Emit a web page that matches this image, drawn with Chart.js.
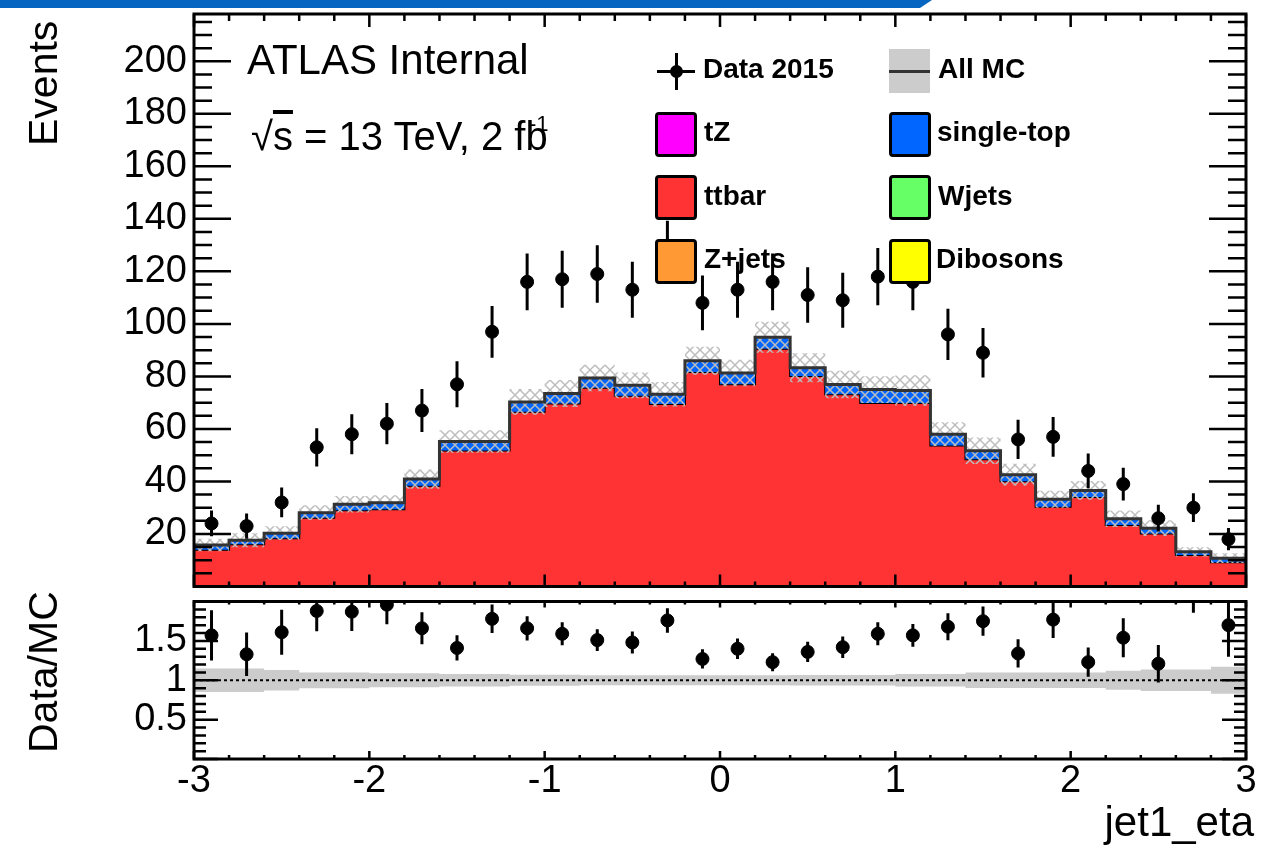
<!DOCTYPE html>
<html lang="en">
<head>
<meta charset="UTF-8">
<meta name="viewport" content="width=device-width, initial-scale=1.0">
<title>jet1_eta</title>
<script src="https://cdn.jsdelivr.net/npm/chart.js"></script>
<style>
  body { margin: 0; background: #fff; color: #000; font-family: "Liberation Sans", Arial, Helvetica, sans-serif; }
  #page { position: relative; width: 1284px; height: 853px; overflow: hidden; }
  #topbar { position: absolute; left: 0; top: 0; width: 932px; height: 8px; background: #0565c0;
            clip-path: polygon(0 0, 100% 0, calc(100% - 12px) 100%, 0 100%); }
  .pane { position: absolute; left: 0; width: 1284px; }
  .txt { position: absolute; white-space: nowrap; }
  .vtitle { position: absolute; white-space: nowrap; font-size: 41px; line-height: 41px;
            transform-origin: 0 0; transform: rotate(-90deg); }
  .leg { position: absolute; white-space: nowrap; font-size: 28px; line-height: 28px; font-weight: bold; }
  .swatch { position: absolute; width: 42px; height: 45px; box-sizing: border-box;
            border: 3px solid #000; border-radius: 4px; }
</style>
</head>
<body>
<div id="page">
  <div class="pane" style="top:0;height:594px"><canvas id="mainChart"></canvas></div>
  <div class="pane" style="top:594px;height:259px"><canvas id="ratioChart"></canvas></div>
  <div id="topbar"></div>

  <!-- axis titles -->
  <div class="vtitle" style="left:23px;top:146px">Events</div>
  <div class="vtitle" style="left:23px;top:753px">Data/MC</div>
  <div class="txt" style="right:30px;top:801px;font-size:42px;line-height:42px">jet1_eta</div>

  <!-- labels -->
  <div class="txt" style="left:247px;top:39px;font-size:42px;line-height:42px">ATLAS Internal</div>
  <div class="txt" style="left:251px;top:116px;font-size:40px;line-height:40px">√<span style="text-decoration:overline">s</span> = 13 TeV, 2 f<span style="letter-spacing:0">b</span></div>
  <div class="txt" style="left:529px;top:113px;font-size:22px;line-height:22px">-1</div>

  <!-- legend -->
  <div style="position:absolute;left:657px;top:69.5px;width:38px;height:3px;background:#000"></div>
  <div style="position:absolute;left:674.5px;top:53px;width:3px;height:37px;background:#000"></div>
  <div style="position:absolute;left:669.5px;top:64.5px;width:13px;height:13px;border-radius:50%;background:#000"></div>
  <div class="leg" style="left:703px;top:55.3px">Data 2015</div>

  <div style="position:absolute;left:889px;top:49px;width:41px;height:44px;background:#cccccc"></div>
  <div style="position:absolute;left:889px;top:69.5px;width:41px;height:3px;background:#333"></div>
  <div class="leg" style="left:938px;top:55.3px">All MC</div>

  <div class="swatch" style="left:655px;top:112px;background:#ff00ff"></div>
  <div class="leg" style="left:704px;top:118.3px">tZ</div>
  <div class="swatch" style="left:889px;top:112px;background:#0066ff"></div>
  <div class="leg" style="left:937px;top:118.3px">single-top</div>

  <div class="swatch" style="left:655px;top:175px;background:#ff3333"></div>
  <div class="leg" style="left:704px;top:181.8px">ttbar</div>
  <div class="swatch" style="left:889px;top:175px;background:#66ff66"></div>
  <div class="leg" style="left:938px;top:181.8px">Wjets</div>

  <div class="swatch" style="left:655px;top:239px;background:#ff9933"></div>
  <div class="leg" style="left:704px;top:244.8px">Z+jets</div>
  <div class="swatch" style="left:889px;top:239px;background:#ffff00"></div>
  <div class="leg" style="left:936px;top:244.8px">Dibosons</div>
</div>

<script>
// bin centres of jet1_eta, bin width 0.2
const etaBins = [-2.9, -2.7, -2.5, -2.3, -2.1, -1.9, -1.7, -1.5, -1.3, -1.1,
                 -0.9, -0.7, -0.5, -0.3, -0.1, 0.1, 0.3, 0.5, 0.7, 0.9,
                 1.1, 1.3, 1.5, 1.7, 1.9, 2.1, 2.3, 2.5, 2.7, 2.9];
const binWidth = 0.2;

// Data 2015 (events per bin)
const dataCounts = [24, 23, 32, 53, 58, 62, 67, 77, 97, 116,
                    117, 119, 113, 128, 108, 113, 116, 111, 109, 118,
                    116, 96, 89, 56, 57, 44, 39, 26, 30, 18];

// MC stack
const ttbar = [14.0, 16.1, 18.4, 26.2, 29.0, 29.4, 38.4, 51.8, 51.8, 66.5,
               69.7, 75.7, 72.6, 69.5, 81.7, 77.0, 90.5, 80.2, 73.2, 69.9,
               69.9, 53.7, 48.5, 40.1, 30.4, 34.1, 23.4, 20.2, 12.0, 9.2];
const singleTop = [1.8, 1.5, 1.9, 1.9, 2.3, 2.5, 2.5, 3.4, 3.4, 3.8,
                   3.8, 3.7, 4.0, 3.7, 4.3, 4.3, 4.4, 3.1, 3.7, 5.1,
                   4.7, 4.3, 3.2, 2.5, 2.8, 2.5, 2.4, 2.0, 1.2, 1.6];

// relative MC uncertainty (grey band)
const mcRelErr = [0.15, 0.15, 0.13, 0.10, 0.10, 0.09, 0.09, 0.078, 0.078, 0.07,
                  0.07, 0.064, 0.064, 0.064, 0.062, 0.062, 0.062, 0.066, 0.068, 0.068,
                  0.078, 0.078, 0.098, 0.098, 0.098, 0.098, 0.12, 0.135, 0.135, 0.17];

// Data/MC as drawn in the lower pad
const dataMcRatio = [1.57, 1.33, 1.61, 1.88, 1.87, 1.96, 1.66, 1.41, 1.78, 1.66,
                     1.59, 1.51, 1.48, 1.76, 1.27, 1.40, 1.23, 1.36, 1.42, 1.59,
                     1.57, 1.68, 1.75, 1.34, 1.77, 1.23, 1.54, 1.21, 2.27, 1.70];

const mainYTicks = [20, 40, 60, 80, 100, 120, 140, 160, 180, 200];
const ratioYTicks = [0.5, 1, 1.5];
const xTicks = [-3, -2, -1, 0, 1, 2, 3];

Chart.defaults.font.family = '"Liberation Sans", Arial, Helvetica, sans-serif';
Chart.defaults.color = '#000';

// histogram outline: one point per lower bin edge + closing point
function stepPoints(vals) {
  const pts = etaBins.map((c, i) => ({ x: c - binWidth / 2, y: vals[i] }));
  pts.push({ x: etaBins[etaBins.length - 1] + binWidth / 2, y: vals[vals.length - 1] });
  return pts;
}

function hatch() {
  const c = document.createElement('canvas');
  c.width = 10; c.height = 10;
  const g = c.getContext('2d');
  g.strokeStyle = '#bdbdbd';
  g.lineWidth = 1.5;
  g.beginPath();
  g.moveTo(-1, -1); g.lineTo(11, 11);
  g.moveTo(11, -1); g.lineTo(-1, 11);
  g.stroke();
  return g.createPattern(c, 'repeat');
}

// ROOT-like frame with inward ticks
const framePlugin = {
  id: 'frame',
  afterDraw(chart, args, o) {
    const { ctx, chartArea: a, scales: { x, y } } = chart;
    ctx.save();
    ctx.strokeStyle = '#000';
    ctx.lineWidth = 2.5;
    ctx.beginPath();
    const nx = Math.round((x.max - x.min) / o.xStep);
    for (let i = 0; i <= nx; i++) {
      const v = x.min + i * o.xStep;
      const major = Math.abs(v / o.xMajor - Math.round(v / o.xMajor)) < 1e-6;
      const px = x.getPixelForValue(v);
      ctx.moveTo(px, a.bottom); ctx.lineTo(px, a.bottom - (major ? o.xBottom[0] : o.xBottom[1]));
      ctx.moveTo(px, a.top); ctx.lineTo(px, a.top + (major ? o.xTop[0] : o.xTop[1]));
    }
    const ny = Math.floor((y.max - y.min) / o.yStep + 1e-6);
    for (let i = 0; i <= ny; i++) {
      const v = y.min + i * o.yStep;
      const major = Math.abs(v / o.yMajor - Math.round(v / o.yMajor)) < 1e-6;
      const py = y.getPixelForValue(v);
      const len = major ? o.yLen[0] : o.yLen[1];
      ctx.moveTo(a.left, py); ctx.lineTo(a.left + len, py);
      ctx.moveTo(a.right, py); ctx.lineTo(a.right - len, py);
    }
    ctx.stroke();
    ctx.lineWidth = 3;
    ctx.strokeRect(a.left, a.top, a.right - a.left, a.bottom - a.top);
    ctx.restore();
  }
};

// vertical error bars for datasets carrying yErr
const errorBarPlugin = {
  id: 'errorBars',
  afterDatasetsDraw(chart) {
    const { ctx, chartArea: a, scales: { x, y } } = chart;
    ctx.save();
    ctx.beginPath();
    ctx.rect(a.left, a.top, a.right - a.left, a.bottom - a.top);
    ctx.clip();
    ctx.strokeStyle = '#000';
    ctx.lineWidth = 3;
    chart.data.datasets.forEach(ds => {
      if (!ds.yErr) return;
      ctx.beginPath();
      ds.data.forEach((p, i) => {
        const px = x.getPixelForValue(p.x);
        ctx.moveTo(px, y.getPixelForValue(p.y - ds.yErr[i]));
        ctx.lineTo(px, y.getPixelForValue(p.y + ds.yErr[i]));
      });
      ctx.stroke();
    });
    ctx.restore();
  }
};

const mcTotal = ttbar.map((v, i) => v + singleTop[i]);

new Chart(document.getElementById('mainChart'), {
  type: 'line',
  data: {
    datasets: [
      {
        label: 'Data 2015',
        data: etaBins.map((x, i) => ({ x, y: dataCounts[i] })),
        yErr: dataCounts.map(n => Math.sqrt(n)),
        showLine: false, pointRadius: 6.5, pointBorderWidth: 1,
        pointBackgroundColor: '#000', pointBorderColor: '#000', order: 0
      },
      {
        label: 'ttbar', data: stepPoints(ttbar), stepped: true, fill: 'origin',
        backgroundColor: '#ff3333', borderColor: '#000', borderWidth: 2, pointRadius: 0, order: 10
      },
      {
        label: 'single-top', data: stepPoints(mcTotal), stepped: true, fill: '-1',
        backgroundColor: '#0066ff', borderColor: 'transparent', borderWidth: 0, pointRadius: 0, order: 9
      },
      {
        label: 'MC unc. low', data: stepPoints(mcTotal.map((v, i) => v * (1 - mcRelErr[i]))),
        stepped: true, fill: false, borderColor: 'transparent', borderWidth: 0, pointRadius: 0, order: 8
      },
      {
        label: 'MC unc.', data: stepPoints(mcTotal.map((v, i) => v * (1 + mcRelErr[i]))),
        stepped: true, fill: '-1', backgroundColor: hatch(),
        borderColor: 'transparent', borderWidth: 0, pointRadius: 0, order: 7
      },
      {
        label: 'All MC', data: stepPoints(mcTotal), stepped: true, fill: false,
        borderColor: '#333', borderWidth: 3, pointRadius: 0, order: 6
      }
    ]
  },
  options: {
    responsive: true,
    maintainAspectRatio: false,
    animation: false,
    events: [],
    layout: { padding: { top: 14, right: 38, bottom: 3, left: 0 } },
    plugins: {
      legend: { display: false },
      tooltip: { enabled: false },
      frame: { xStep: 0.2, xMajor: 1, xBottom: [12, 5], xTop: [13, 7], yStep: 5, yMajor: 20, yLen: [37, 18] }
    },
    scales: {
      x: { type: 'linear', min: -3, max: 3, display: false },
      y: {
        min: 0, max: 218,
        grid: { display: false, drawTicks: false },
        border: { display: false },
        afterBuildTicks: s => { s.ticks = mainYTicks.map(v => ({ value: v })); },
        afterFit: s => { s.width = 194; s.paddingTop = 0; s.paddingBottom = 0; },
        ticks: { font: { size: 38, lineHeight: 1.2 }, padding: 7, callback: v => String(v) }
      }
    }
  },
  plugins: [framePlugin, errorBarPlugin]
});

new Chart(document.getElementById('ratioChart'), {
  type: 'line',
  data: {
    datasets: [
      {
        label: 'Data/MC',
        data: etaBins.map((x, i) => ({ x, y: dataMcRatio[i] })),
        yErr: dataMcRatio.map((r, i) => r / Math.sqrt(dataCounts[i])),
        showLine: false, pointRadius: 6.5, pointBorderWidth: 1,
        pointBackgroundColor: '#000', pointBorderColor: '#000', order: 0
      },
      {
        label: 'band low', data: stepPoints(mcRelErr.map(e => 1 - e)), stepped: true, fill: false,
        borderColor: 'transparent', borderWidth: 0, pointRadius: 0, order: 5
      },
      {
        label: 'band', data: stepPoints(mcRelErr.map(e => 1 + e)), stepped: true, fill: '-1',
        backgroundColor: '#cccccc', borderColor: 'transparent', borderWidth: 0, pointRadius: 0, order: 4
      },
      {
        label: 'unity', data: [{ x: -3, y: 1 }, { x: 3, y: 1 }], fill: false,
        borderColor: '#000', borderWidth: 2, borderDash: [3, 3], pointRadius: 0, order: 3
      }
    ]
  },
  options: {
    responsive: true,
    maintainAspectRatio: false,
    animation: false,
    events: [],
    layout: { padding: { top: 3, right: 38, bottom: 0, left: 0 } },
    plugins: {
      legend: { display: false },
      tooltip: { enabled: false },
      frame: { xStep: 0.2, xMajor: 1, xBottom: [8, 4], xTop: [6, 3], yStep: 0.1, yMajor: 0.5, yLen: [24, 12] }
    },
    scales: {
      x: {
        type: 'linear', min: -3, max: 3,
        grid: { display: false, drawTicks: false },
        border: { display: false },
        afterBuildTicks: s => { s.ticks = xTicks.map(v => ({ value: v })); },
        afterFit: s => { s.height = 94; s.paddingLeft = 0; s.paddingRight = 0; },
        ticks: { font: { size: 38, lineHeight: 1.2 }, padding: 0, maxRotation: 0, autoSkip: false, callback: v => String(v) }
      },
      y: {
        min: 0, max: 2,
        grid: { display: false, drawTicks: false },
        border: { display: false },
        afterBuildTicks: s => { s.ticks = ratioYTicks.map(v => ({ value: v })); },
        afterFit: s => { s.width = 194; s.paddingTop = 0; s.paddingBottom = 0; },
        ticks: { font: { size: 38, lineHeight: 1.2 }, padding: 7, callback: v => String(v) }
      }
    }
  },
  plugins: [framePlugin, errorBarPlugin]
});
</script>
</body>
</html>
